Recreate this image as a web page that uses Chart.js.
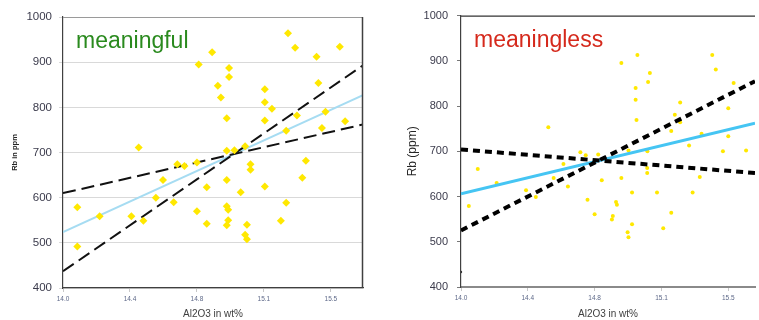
<!DOCTYPE html>
<html>
<head>
<meta charset="utf-8">
<script src="https://cdn.jsdelivr.net/npm/chart.js@4.4.1/dist/chart.umd.min.js"></script>
<style>
  body { margin: 0; background: #fff; overflow: hidden; }
  #left { position: absolute; left: 0; top: 0; width: 380px; height: 320px; }
  #right { position: absolute; left: 380px; top: 0; width: 379px; height: 320px; }
</style>
</head>
<body>
<div id="left"><canvas id="meaningful"></canvas></div>
<div id="right"><canvas id="meaningless"></canvas></div>
<script>
// tick positions used by the original spreadsheet (step 0.375, shown with one decimal)
const xTicks = [14.0, 14.375, 14.75, 15.125, 15.5];

// left panel: samples
const leftAl = [14.08, 14.08, 14.205, 14.383, 14.424, 14.45, 14.52, 14.56, 14.62, 14.64,
  14.68, 14.75, 14.75, 14.76, 14.805, 14.805, 14.835, 14.867, 14.884, 14.917,
  14.917, 14.917, 14.917, 14.925, 14.925, 14.917, 14.93, 14.93, 14.96, 14.995,
  15.02, 15.05, 15.05, 15.03, 15.02, 15.03, 15.13, 15.13, 15.13, 15.17,
  15.13, 15.22, 15.25, 15.25, 15.26, 15.30, 15.31, 15.34, 15.36, 15.42,
  15.43, 15.45, 15.47, 15.55, 15.58];
const leftRb = [579, 492, 559, 559, 711, 549, 600, 639, 590, 674,
  670, 678, 570, 895, 623, 542, 922, 848, 822, 776,
  704, 639, 581, 573, 550, 539, 887, 867, 705, 612,
  714, 674, 662, 540, 518, 508, 840, 811, 771, 797,
  625, 549, 589, 748, 964, 932, 782, 644, 682, 912,
  854, 754, 790, 934, 769];
// left panel: fitted lines (end points)
const leftLineAl = [14.0, 15.68];
const leftFitRb = [524, 827];
const leftSteepRb = [437, 893];
const leftFlatRb = [610, 762];

// right panel: samples
const rightAl = [14.044, 14.094, 14.20, 14.365, 14.42, 14.49, 14.52, 14.575, 14.60, 14.71,
  14.67, 14.70, 14.75, 14.77, 14.79, 14.847, 14.852, 14.87, 14.875, 14.90,
  14.90, 14.935, 14.94, 14.96, 14.96, 14.98, 14.98, 14.985, 14.99, 14.94,
  15.046, 15.045, 15.045, 15.05, 15.06, 15.10, 15.135, 15.18, 15.18, 15.20,
  15.23, 15.23, 15.28, 15.30, 15.34, 15.35, 15.41, 15.43, 15.47, 15.50,
  15.50, 15.53, 15.60];
const rightRb = [579, 661, 630, 614, 599, 753, 641, 672, 622, 593,
  698, 691, 561, 693, 636, 549, 557, 588, 582, 895,
  641, 521, 510, 609, 539, 840, 814, 769, 913, 702,
  700, 663, 652, 853, 873, 609, 530, 745, 564, 781,
  808, 764, 713, 609, 643, 739, 913, 881, 700, 795,
  733, 851, 702];
const rightStrayAl = [14.0];
const rightStrayRb = [433];
// right panel: fitted lines (end points)
const rightLineAl = [14.0, 15.65];
const rightFitRb = [606, 762];
const rightSteepRb = [525, 855];
const rightFlatRb = [704, 652];

const pts = (xs, ys) => xs.map((x, i) => ({ x: x, y: ys[i] }));

// frame lines on top/right of the plot and the big caption
const frame = {
  id: 'frame',
  afterDraw(chart, args, o) {
    const a = chart.chartArea;
    const c = chart.ctx;
    c.save();
    if (o.top) {
      c.strokeStyle = o.top;
      c.lineWidth = 1.2;
      c.beginPath();
      c.moveTo(a.left, a.top + 0.5);
      c.lineTo(a.right, a.top + 0.5);
      c.stroke();
    }
    if (o.right) {
      c.strokeStyle = o.right;
      c.lineWidth = 1.5;
      c.beginPath();
      c.moveTo(a.right - 0.5, a.top);
      c.lineTo(a.right - 0.5, a.bottom);
      c.stroke();
    }
    c.fillStyle = o.color;
    c.font = '23px "Liberation Sans", Arial, sans-serif';
    c.textBaseline = 'alphabetic';
    c.fillText(o.text, a.left + 13, a.top + 31);
    c.restore();
  }
};

function lineSet(xs, ys, color, width, dash) {
  return {
    data: pts(xs, ys),
    showLine: true,
    borderColor: color,
    borderWidth: width,
    borderDash: dash,
    borderCapStyle: 'butt',
    pointRadius: 0,
    fill: false
  };
}

function makeChart(id, c) {
  return new Chart(document.getElementById(id), {
    type: 'scatter',
    data: { datasets: c.datasets },
    options: {
      responsive: true,
      maintainAspectRatio: false,
      animation: false,
      layout: { padding: c.padding },
      plugins: {
        legend: { display: false },
        tooltip: { enabled: false },
        frame: c.frame
      },
      scales: {
        x: {
          type: 'linear',
          min: 14.0,
          max: c.xMax,
          afterBuildTicks: s => { s.ticks = xTicks.map(v => ({ value: v })); },
          afterFit: s => { s.height = c.xHeight; },
          ticks: {
            callback: v => v.toFixed(1),
            font: { family: '"Liberation Sans", Arial, sans-serif', size: 6.5 },
            color: '#5d6888',
            padding: 3,
            maxRotation: 0
          },
          grid: { drawOnChartArea: false, tickLength: 4, color: '#c8c8c8' },
          border: { display: true, color: c.xAxisColor, width: c.xAxisWidth },
          title: {
            display: true,
            text: 'Al2O3 in wt%',
            color: '#404040',
            font: { family: '"Liberation Sans", Arial, sans-serif', size: 10 },
            padding: { top: 0, bottom: 0 }
          }
        },
        y: {
          min: 400,
          max: 1000,
          afterFit: s => { s.width = c.yWidth; },
          ticks: {
            stepSize: 100,
            callback: v => String(v),
            font: { family: '"Liberation Sans", Arial, sans-serif', size: c.yTickSize },
            color: '#3b3b4c',
            padding: c.yTickPad
          },
          grid: c.yGrid,
          border: { display: true, color: '#404040', width: 1.2 },
          title: {
            display: true,
            text: c.yTitle,
            color: '#262626',
            font: c.yTitleFont,
            padding: { top: c.yTitlePad, bottom: c.yTitlePad }
          }
        }
      }
    },
    plugins: [frame]
  });
}

makeChart('meaningful', {
  datasets: [
    {
      data: pts(leftAl, leftRb),
      pointStyle: 'rectRot',
      pointRadius: 4,
      pointBorderWidth: 0,
      backgroundColor: 'rgb(255,232,0)',
      borderColor: 'rgb(255,232,0)'
    },
    lineSet(leftLineAl, leftSteepRb, '#111', 2, [13, 6]),
    lineSet(leftLineAl, leftFlatRb, '#111', 2, [13, 6]),
    lineSet(leftLineAl, leftFitRb, '#a6dcf2', 2, [])
  ],
  padding: { left: 0, right: 17, top: 17, bottom: 0 },
  xMax: 15.68,
  xHeight: 32,
  xAxisColor: '#404040',
  xAxisWidth: 1.2,
  yWidth: 63,
  yTickSize: 11.5,
  yTickPad: 7,
  yGrid: { color: '#d9d9d9', tickLength: 4 },
  yTitle: 'Rb in ppm',
  yTitleFont: { family: '"Liberation Sans", Arial, sans-serif', size: 7.5, weight: 'bold' },
  yTitlePad: 10,
  frame: { top: '#9a9a9a', right: '#404040', text: 'meaningful', color: '#2a8a1e' }
});

makeChart('meaningless', {
  datasets: [
    lineSet(rightLineAl, rightSteepRb, '#000', 4, [7, 5]),
    lineSet(rightLineAl, rightFlatRb, '#000', 4, [7, 5]),
    lineSet(rightLineAl, rightFitRb, '#45c5f3', 3, []),
    {
      data: pts(rightAl, rightRb),
      pointStyle: 'circle',
      pointRadius: 2,
      pointBorderWidth: 0,
      backgroundColor: 'rgb(255,232,0)',
      borderColor: 'rgb(255,232,0)'
    },
    {
      data: pts(rightStrayAl, rightStrayRb),
      pointRadius: 1.2,
      pointBorderWidth: 0,
      backgroundColor: '#333'
    }
  ],
  padding: { left: 0, right: 0, top: 15, bottom: 0 },
  xMax: 15.65,
  xHeight: 33,
  xAxisColor: '#8a8a8a',
  xAxisWidth: 2,
  yWidth: 81,
  yTickSize: 11,
  yTickPad: 9,
  yGrid: { drawOnChartArea: false, color: '#777', tickLength: 4 },
  yTitle: 'Rb (ppm)',
  yTitleFont: { family: '"Liberation Sans", Arial, sans-serif', size: 12 },
  yTitlePad: 25,
  frame: { top: '#333', text: 'meaningless', color: '#d5291c' }
});
</script>
</body>
</html>
